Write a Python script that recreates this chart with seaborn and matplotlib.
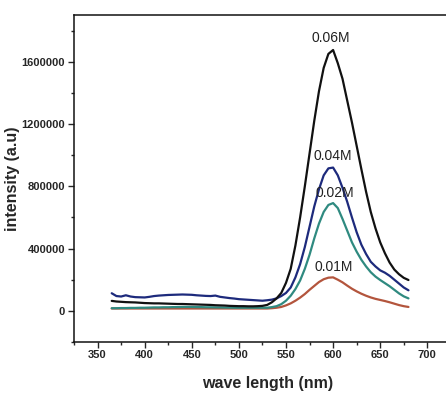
import numpy as np
import pandas as pd
import matplotlib
matplotlib.use("Agg")
import matplotlib.pyplot as plt
from matplotlib.ticker import MultipleLocator
import seaborn as sns

# wavelength grid (nm), 365..680 in 5 nm steps
# rows below: 365-410, 415-460, 465-510, 515-560, 565-610, 615-660, 665-680
wavelength = list(range(365, 685, 5))

# values
i_006 = [64000, 60000, 58000, 56000, 55000, 54000, 52000, 50000, 49000, 48000,
         48000, 47000, 46000, 45000, 44000, 44000, 43000, 42000, 41000, 40000,
         39000, 38000, 36000, 35000, 34000, 32000, 31000, 30000, 30000, 29000,
         29000, 30000, 32000, 38000, 55000, 80000, 115000, 180000, 270000, 420000,
         600000, 800000, 1010000, 1220000, 1410000, 1560000, 1650000, 1675000, 1590000, 1490000,
         1350000, 1210000, 1060000, 910000, 765000, 635000, 530000, 440000, 370000, 310000,
         265000, 235000, 212000, 198000]
i_004 = [113000, 95000, 92000, 100000, 92000, 88000, 87000, 86000, 90000, 95000,
         98000, 100000, 102000, 103000, 104000, 105000, 104000, 103000, 100000, 98000,
         96000, 95000, 98000, 90000, 86000, 82000, 79000, 75000, 73000, 71000,
         69000, 67000, 65000, 68000, 72000, 80000, 95000, 115000, 150000, 215000,
         300000, 410000, 540000, 670000, 780000, 870000, 915000, 920000, 870000, 790000,
         700000, 600000, 505000, 425000, 365000, 315000, 285000, 260000, 245000, 225000,
         200000, 175000, 150000, 132000]
i_002 = [17000, 17000, 18000, 18000, 19000, 19000, 20000, 20000, 21000, 22000,
         22000, 23000, 23000, 24000, 24000, 25000, 25000, 25000, 24000, 24000,
         23000, 23000, 22000, 22000, 21000, 21000, 20000, 20000, 20000, 20000,
         20000, 20000, 20000, 20000, 24000, 30000, 43000, 65000, 97000, 140000,
         195000, 270000, 360000, 465000, 560000, 635000, 680000, 692000, 660000, 590000,
         515000, 440000, 380000, 328000, 285000, 248000, 220000, 198000, 178000, 158000,
         135000, 112000, 93000, 80000]
i_001 = [15000, 15000, 15000, 15000, 15000, 15000, 15000, 15000, 15000, 15000,
         15000, 15000, 15000, 15000, 15000, 15000, 15000, 15000, 15000, 15000,
         15000, 15000, 15000, 15000, 15000, 15000, 15000, 15000, 15000, 15000,
         15000, 15000, 15000, 15000, 17000, 20000, 25000, 35000, 48000, 65000,
         85000, 108000, 135000, 160000, 185000, 203000, 213000, 215000, 200000, 183000,
         162000, 142000, 125000, 110000, 97000, 86000, 77000, 70000, 63000, 55000,
         46000, 37000, 30000, 25000]

labels = ["0.06M", "0.04M", "0.02M", "0.01M"]
label_x = [597, 600, 602, 601]
label_y = [1754000, 996000, 758000, 283000]
colors = ["#111111", "#1d2a7c", "#2f8a80", "#b3553d"]

df = pd.DataFrame({
    "wavelength": wavelength * 4,
    "intensity": i_006 + i_004 + i_002 + i_001,
    "conc": sum([[c] * len(wavelength) for c in labels], []),
})

sns.set_style("ticks")
plt.rcParams["font.family"] = ["Liberation Sans", "DejaVu Sans"]

fig = plt.figure(figsize=(4.46, 3.94), dpi=100)
ax = fig.add_axes([0.166, 0.132, 0.866, 0.830])

# faintest first so the black sits on top
for name, col in zip(labels[::-1], colors[::-1]):
    sns.lineplot(data=df[df["conc"] == name], x="wavelength", y="intensity",
                 color=col, linewidth=1.6, ax=ax, legend=False)

for t, x, y in zip(labels, label_x, label_y):
    ax.text(x, y, t, ha="center", va="center", fontsize=10, color="#222222")

ax.set_xlim(325, 735)
ax.set_ylim(-200000, 1900000)
ax.xaxis.set_major_locator(MultipleLocator(50))
ax.xaxis.set_minor_locator(MultipleLocator(25))
ax.yaxis.set_major_locator(MultipleLocator(400000))
ax.yaxis.set_minor_locator(MultipleLocator(200000))
ax.ticklabel_format(axis="y", style="plain", useOffset=False)
ax.tick_params(which="major", direction="out", length=4, width=1, labelsize=8, pad=2.5)
ax.tick_params(axis="x", which="major", pad=1.5)
ax.tick_params(which="minor", direction="out", length=2.5, width=1)
for lab in ax.get_xticklabels() + ax.get_yticklabels():
    lab.set_fontweight("bold")
for s in ax.spines.values():
    s.set_linewidth(1.1)
    s.set_color("#111111")

ax.set_xlabel("wave length (nm)", fontsize=11.5, fontweight="bold", labelpad=12)
ax.set_ylabel("intensity (a.u)", fontsize=11.5, fontweight="bold", labelpad=1)

fig.savefig("out.png", dpi=100)
